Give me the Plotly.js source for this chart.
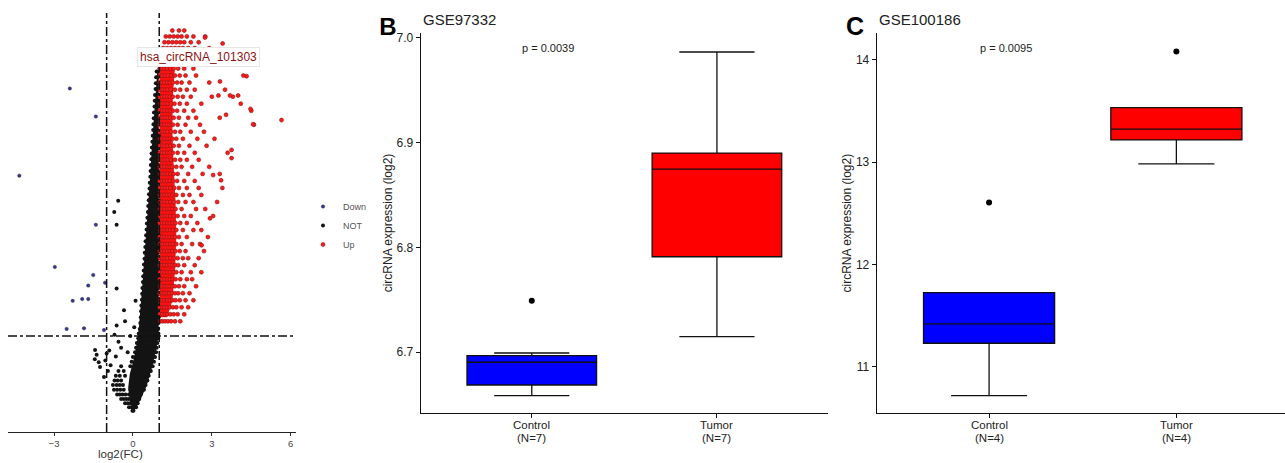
<!DOCTYPE html>
<html>
<head>
<meta charset="utf-8">
<script src="https://cdn.plot.ly/plotly-3.0.1.min.js"></script>
<style>html,body{margin:0;padding:0;background:#fff;}#chart{width:1285px;height:463px;}</style>
</head>
<body>
<div id="chart"></div>
<script>
// ---------------- Panel A: volcano plot (log2 fold change vs -log10 p) ----------------
// rows: [y, x1, x2, ...]  (NOT significant circRNAs)
const notRows = [
  [0.02,-0.02,0.02],
  [0.08,-0.15,-0.05,0.05,0.12],
  [0.15,-0.3,-0.2,-0.1,0,0.1,0.18],
  [0.22,-0.45,-0.35,-0.25,-0.15,-0.05,0.05,0.15,0.24],
  [0.3,-0.6,-0.5,-0.4,-0.28,-0.15,0,0.1,0.2,0.3],
  [0.38,-0.72,-0.6,-0.48,-0.35,-0.1,0.05,0.15,0.25,0.35,0.42],
  [0.46,-0.76,-0.62,-0.5,-0.38,-0.05,0.08,0.2,0.3,0.4,0.48],
  [0.54,-0.7,-0.58,-0.45,0.0,0.12,0.22,0.33,0.45,0.55],
  [0.62,-0.65,-0.5,-0.3,0.05,0.15,0.27,0.38,0.5,0.6],
  [0.7,-0.55,-0.35,0.0,0.1,0.2,0.3,0.42,0.55,0.68],
  [0.78,-0.45,-0.1,0.05,0.15,0.25,0.36,0.48,0.6,0.75],
  [0.86,-0.05,0.1,0.2,0.3,0.42,0.54,0.66,0.8],
  [0.94,0.0,0.12,0.24,0.35,0.46,0.58,0.7,0.84],
  [1.02,0.08,0.18,0.28,0.4,0.5,0.62,0.74,0.88],
  [1.1,0.12,0.22,0.32,0.44,0.55,0.66,0.78,0.9],
  [1.18,0.15,0.26,0.36,0.48,0.58,0.7,0.82,0.93],
  [1.26,0.2,0.3,0.4,0.5,0.62,0.74,0.86,0.96],
  [1.34,0.22,0.32,0.42,0.53,0.64,0.76,0.88,0.97],
  [1.42,0.26,0.36,0.46,0.56,0.66,0.76,0.86,0.96],
  [1.52,0.28,0.38,0.48,0.58,0.68,0.78,0.88,0.97],
  [1.62,0.3,0.4,0.5,0.6,0.7,0.8,0.9,0.98],
  [1.72,0.31,0.42,0.52,0.62,0.72,0.82,0.92],
  [1.82,0.32,0.43,0.54,0.64,0.74,0.85,0.95],
  [1.92,0.34,0.45,0.55,0.65,0.76,0.86,0.97],
  [2.02,0.35,0.46,0.56,0.66,0.77,0.88,0.98],
  [2.12,0.36,0.47,0.58,0.68,0.78,0.89,0.97],
  [2.22,0.38,0.48,0.59,0.7,0.8,0.9,0.98],
  [2.32,0.39,0.5,0.6,0.7,0.8,0.9,0.98],
  [2.42,0.41,0.51,0.61,0.71,0.81,0.91,0.98],
  [2.52,0.42,0.52,0.62,0.72,0.82,0.92,0.99],
  [2.62,0.44,0.54,0.64,0.74,0.84,0.94],
  [2.72,0.45,0.55,0.65,0.75,0.85,0.95],
  [2.82,0.47,0.57,0.67,0.77,0.87,0.97],
  [2.92,0.48,0.58,0.68,0.78,0.88,0.97],
  [3.02,0.5,0.6,0.7,0.8,0.9,0.98],
  [3.12,0.52,0.62,0.72,0.82,0.92,0.99],
  [3.22,0.53,0.63,0.73,0.83,0.93],
  [3.32,0.55,0.65,0.75,0.85,0.95],
  [3.42,0.57,0.67,0.77,0.87,0.96],
  [3.52,0.58,0.68,0.78,0.88,0.97],
  [3.62,0.6,0.7,0.8,0.9,0.98],
  [3.72,0.61,0.71,0.81,0.91,0.98],
  [3.82,0.63,0.73,0.83,0.92,0.99],
  [3.92,0.64,0.74,0.84,0.93],
  [4.02,0.66,0.75,0.85,0.94],
  [4.12,0.67,0.76,0.86,0.95],
  [4.22,0.68,0.78,0.87,0.96],
  [4.32,0.7,0.79,0.88,0.97],
  [4.42,0.71,0.8,0.89,0.97],
  [4.52,0.72,0.81,0.9,0.98],
  [4.62,0.74,0.83,0.91,0.98],
  [4.72,0.75,0.84,0.92,0.99],
  [4.82,0.77,0.85,0.93],
  [4.92,0.78,0.86,0.94],
  [5.02,0.79,0.87,0.95],
  [5.12,0.8,0.88,0.96],
  [5.22,0.82,0.89,0.96],
  [5.32,0.83,0.9,0.97],
  [5.42,0.84,0.91,0.97],
  [5.52,0.86,0.92,0.98],
  [5.62,0.87,0.93,0.98],
  [5.72,0.88,0.94],
  [5.82,0.9,0.96]
];
// scattered NOT points
const notSparseX = [-1.44,-1.38,-1.45,-1.25,-1.3,-1.05,-0.85,-0.45,-0.55,-0.7,-0.62,-0.34,-0.62,-0.71,-0.62,-0.56,-1.0,-0.9,-0.95,-1.1,-0.3,-0.1,0.05,0.1,-0.2,-0.65];
const notSparseY = [1.06,0.98,0.9,0.77,0.85,0.88,0.8,1.1,1.2,1.32,1.48,1.74,2.11,3.42,3.2,3.61,1.0,1.05,0.7,0.6,1.55,1.3,1.45,1.9,1.02,0.95];
// envelope of the solid (overplotted) NOT cloud
const notCoreX = [0,-0.12,-0.18,-0.12,0.0,0.12,0.22,0.3,0.38,0.46,0.56,0.65,0.73,0.8,0.86,0.92,0.98,0.98,0.85,0.72,0.52,0.3,0.1];
const notCoreY = [0.03,0.2,0.42,0.65,0.85,1.1,1.4,1.8,2.3,2.8,3.4,4.0,4.6,5.1,5.5,5.8,5.8,1.3,1.0,0.75,0.45,0.22,0.05];

// rows: [y, x1, x2, ...]  (Up-regulated circRNAs)
const upRows = [
  [1.55,1.03,1.12,1.22,1.33,1.45,1.6,1.8],
  [1.67,1.03,1.12,1.21,1.3,1.42,1.55,1.7,1.95],
  [1.79,1.02,1.11,1.2,1.3,1.4,1.52,1.65,1.85,2.1],
  [1.91,1.03,1.12,1.21,1.3,1.4,1.5,1.62,1.78,2.0,2.3],
  [2.03,1.02,1.11,1.2,1.29,1.38,1.48,1.6,1.72,1.9,2.15],
  [2.15,1.03,1.12,1.21,1.3,1.4,1.5,1.6,1.75,1.95,2.4],
  [2.27,1.02,1.11,1.2,1.3,1.4,1.5,1.62,1.8,2.05,2.25],
  [2.39,1.03,1.12,1.21,1.3,1.4,1.52,1.65,1.85,2.2,2.6],
  [2.51,1.02,1.11,1.2,1.3,1.4,1.5,1.6,1.72,1.95,2.35],
  [2.63,1.03,1.12,1.21,1.31,1.42,1.55,1.7,1.9,2.1,2.5],
  [2.75,1.02,1.11,1.2,1.3,1.4,1.5,1.62,1.78,2.0,2.7],
  [2.87,1.03,1.12,1.22,1.32,1.42,1.52,1.65,1.85,2.25,2.55],
  [2.99,1.02,1.11,1.2,1.3,1.4,1.5,1.6,1.75,2.05,2.85],
  [3.11,1.03,1.12,1.21,1.31,1.41,1.52,1.65,1.9,2.3,2.6],
  [3.23,1.02,1.11,1.2,1.3,1.4,1.5,1.62,1.8,2.05,2.45],
  [3.35,1.03,1.12,1.22,1.32,1.42,1.55,1.7,1.95,2.2,3.05],
  [3.47,1.02,1.11,1.2,1.3,1.4,1.5,1.62,1.85,2.4,2.75],
  [3.59,1.03,1.12,1.21,1.31,1.42,1.55,1.72,2.0,2.3,3.2],
  [3.71,1.02,1.11,1.2,1.3,1.4,1.5,1.65,1.9,2.15,2.6],
  [3.83,1.03,1.12,1.22,1.32,1.43,1.57,1.75,2.05,2.5,3.4],
  [3.95,1.02,1.11,1.2,1.3,1.4,1.52,1.68,1.95,2.35],
  [4.07,1.03,1.12,1.21,1.31,1.42,1.55,1.7,2.1,2.65,3.3],
  [4.19,1.02,1.11,1.2,1.3,1.4,1.5,1.65,1.85,2.25,2.9],
  [4.31,1.03,1.12,1.22,1.32,1.44,1.6,1.8,2.05,2.5],
  [4.43,1.02,1.11,1.2,1.3,1.4,1.52,1.7,1.95,2.35,3.6],
  [4.55,1.03,1.12,1.21,1.31,1.42,1.55,1.75,2.15,2.8],
  [4.67,1.02,1.11,1.2,1.3,1.4,1.5,1.65,1.9,2.45,3.1],
  [4.79,1.03,1.12,1.22,1.32,1.44,1.6,1.8,2.2,2.7],
  [4.91,1.02,1.11,1.2,1.3,1.4,1.52,1.7,2.0,2.55,4.6],
  [5.03,1.03,1.12,1.21,1.31,1.42,1.55,1.75,2.1,2.4,3.3],
  [5.15,1.02,1.11,1.2,1.3,1.4,1.52,1.68,1.95,2.3,4.5],
  [5.27,1.03,1.12,1.22,1.32,1.44,1.58,1.78,2.05,2.6,4.1],
  [5.39,1.02,1.11,1.2,1.3,1.4,1.52,1.7,1.9,2.2,3.0,3.8],
  [5.51,1.03,1.12,1.22,1.32,1.44,1.6,1.8,2.05,2.35,3.5],
  [5.63,1.02,1.11,1.2,1.3,1.4,1.52,1.68,1.85,2.15,2.9],
  [5.75,1.03,1.12,1.22,1.33,1.45,1.6,1.78,2.0,2.4,4.2],
  [5.87,1.02,1.11,1.2,1.3,1.42,1.55,1.72,1.95,2.3],
  [6.22,1.15,1.3,1.45,1.6,1.75,1.9,2.1,2.35,2.9],
  [6.32,1.2,1.35,1.5,1.65,1.8,1.95,2.2,2.5],
  [6.42,1.25,1.4,1.55,1.7,1.85,2.05,2.3,2.75],
  [6.52,1.5,1.75,1.95]
];
// scattered Up points
const upSparseX = [4.32,3.31,3.25,3.69,4.0,4.47,4.57,5.65,3.54,3.75,3.75,3.05,3.35,2.93,2.61,3.41,2.74];
const upSparseY = [5.74,5.65,5.41,5.41,5.41,5.18,4.92,4.99,5.08,4.48,4.34,4.05,3.96,3.31,2.85,6.3,6.4];
// envelope of the solid (overplotted) Up cloud
const upCoreX = [1.01,1.3,1.5,1.6,1.65,1.62,1.55,1.5,1.52,1.6,1.01];
const upCoreY = [1.62,1.62,1.9,2.4,3.0,3.6,4.2,4.8,5.4,5.9,5.9];

// Down-regulated circRNAs
const downX = [-2.40,-1.41,-4.32,-1.41,-2.97,-1.51,-1.70,-1.06,-2.29,-1.93,-1.70,-2.52,-1.86,-1.10];
const downY = [5.53,5.05,4.04,3.20,2.48,2.34,2.16,2.21,1.90,1.93,1.93,1.42,1.43,1.40];

const foldCut = [-1, 1];     // log2 fold-change thresholds
const pCut = [1.3];          // -log10(0.05)
const volcanoTicks = [-3, 0, 3, 6];
const labelGene = {name: 'hsa_circRNA_101303', x: 2.5, y: 6.06};

// ---------------- Panel B: GSE97332 ----------------
const groupsB = ['Control', 'Tumor'];
const countsB = [7, 7];
const statsB = {  // lowerfence, q1, median, q3, upperfence
  control: [6.6586, 6.6688, 6.6905, 6.6968, 6.6993],
  tumor:   [6.7149, 6.7911, 6.8747, 6.8900, 6.9864]
};
const outliersB = {g: [0], y: [6.7492]};
const pB = 'p = 0.0039';

// ---------------- Panel C: GSE100186 ----------------
const groupsC = ['Control', 'Tumor'];
const countsC = [4, 4];
const statsC = {
  control: [10.716, 11.229, 11.418, 11.724, 11.724],
  tumor:   [12.983, 13.218, 13.323, 13.534, 13.534]
};
const outliersC = {g: [0, 1], y: [12.605, 14.082]};
const pC = 'p = 0.0095';

// ---------------- build ----------------
function flatten(rows, extraX, extraY) {
  const xs = [], ys = [];
  rows.forEach(r => { for (let i = 1; i < r.length; i++) { xs.push(r[i]); ys.push(r[0]); } });
  return {x: xs.concat(extraX), y: ys.concat(extraY)};
}
const notPts = flatten(notRows, notSparseX, notSparseY);
const upPts = flatten(upRows, upSparseX, upSparseY);

const FONT = 'Liberation Sans, Arial, Helvetica, sans-serif';
const W = 1285, H = 463;
const px = v => v / W, py = v => (H - v) / H;

const traces = [
  {type: 'scatter', mode: 'lines', x: notCoreX, y: notCoreY, fill: 'toself', fillcolor: '#141414',
   line: {width: 0}, xaxis: 'x', yaxis: 'y', showlegend: false, hoverinfo: 'skip'},
  {type: 'scatter', mode: 'lines', x: upCoreX, y: upCoreY, fill: 'toself', fillcolor: '#ff1010',
   line: {width: 0}, xaxis: 'x', yaxis: 'y', showlegend: false, hoverinfo: 'skip'},
  {type: 'scatter', mode: 'markers', name: 'Down', x: downX, y: downY, xaxis: 'x', yaxis: 'y',
   marker: {color: '#33339a', size: 3.5, line: {color: '#333', width: 0.4}}, hoverinfo: 'skip'},
  {type: 'scatter', mode: 'markers', name: 'NOT', x: notPts.x, y: notPts.y, xaxis: 'x', yaxis: 'y',
   marker: {color: '#141414', size: 4, line: {width: 0}}, hoverinfo: 'skip'},
  {type: 'scatter', mode: 'markers', name: 'Up', x: upPts.x, y: upPts.y, xaxis: 'x', yaxis: 'y',
   marker: {color: '#ff1a1a', size: 4, line: {color: '#8a1515', width: 0.6}}, hoverinfo: 'skip'}
];

function boxTrace(ax, ay, cat, s, color) {
  return {type: 'box', x: [cat], lowerfence: [s[0]], q1: [s[1]], median: [s[2]], q3: [s[3]], upperfence: [s[4]],
    xaxis: ax, yaxis: ay, fillcolor: color, line: {color: '#111', width: 1.3}, width: 0.7, whiskerwidth: 0.58,
    boxpoints: false, showlegend: false, hoverinfo: 'skip'};
}
traces.push(boxTrace('x2', 'y2', groupsB[0], statsB.control, '#0000ff'));
traces.push(boxTrace('x2', 'y2', groupsB[1], statsB.tumor, '#ff0000'));
traces.push({type: 'scatter', mode: 'markers', x: outliersB.g.map(i => groupsB[i]), y: outliersB.y, xaxis: 'x2', yaxis: 'y2',
  marker: {color: '#000', size: 6}, showlegend: false, hoverinfo: 'skip'});
traces.push(boxTrace('x3', 'y3', groupsC[0], statsC.control, '#0000ff'));
traces.push(boxTrace('x3', 'y3', groupsC[1], statsC.tumor, '#ff0000'));
traces.push({type: 'scatter', mode: 'markers', x: outliersC.g.map(i => groupsC[i]), y: outliersC.y, xaxis: 'x3', yaxis: 'y3',
  marker: {color: '#000', size: 6}, showlegend: false, hoverinfo: 'skip'});

const shapes = [];
foldCut.forEach(v => shapes.push({type: 'line', xref: 'x', yref: 'y domain', x0: v, x1: v, y0: 0, y1: 1,
  line: {color: '#111', width: 1.5, dash: 'dashdot'}}));
pCut.forEach(v => shapes.push({type: 'line', xref: 'x domain', yref: 'y', x0: 0, x1: 1, y0: v, y1: v,
  line: {color: '#111', width: 1.5, dash: 'dashdot'}}));

const boxAxisX = {showgrid: false, zeroline: false, showline: true, linecolor: '#111', linewidth: 1,
  ticks: 'outside', ticklen: 4, tickcolor: '#111', showticklabels: false,
  type: 'category', fixedrange: true};
const boxAxisY = {showgrid: false, zeroline: false, showline: true, linecolor: '#111', linewidth: 1,
  ticks: 'outside', ticklen: 4, tickcolor: '#111', tickfont: {family: FONT, size: 12, color: '#222'},
  title: {text: 'circRNA expression (log2)', font: {family: FONT, size: 12, color: '#222'}, standoff: 1}};

const annotations = [
  {xref: 'x', yref: 'y', x: labelGene.x, y: labelGene.y, text: labelGene.name, showarrow: false,
   font: {family: FONT, size: 12, color: '#8b1212'}, bgcolor: '#fff', bordercolor: '#e6e6e6', borderwidth: 1, borderpad: 2},
  {xref: 'paper', yref: 'paper', x: px(120.5), y: py(453.5), text: 'log2(FC)', showarrow: false,
   xanchor: 'center', yanchor: 'middle', font: {family: FONT, size: 11.5, color: '#333'}},
  {xref: 'paper', yref: 'paper', x: px(387.5), y: py(26), text: '<b>B</b>', showarrow: false,
   xanchor: 'center', yanchor: 'middle', width: 18, height: 20, font: {family: FONT, size: 24, color: '#000'}},
  {xref: 'paper', yref: 'paper', x: px(420.7), y: py(19.5), text: 'GSE97332', showarrow: false,
   xanchor: 'left', yanchor: 'middle', font: {family: FONT, size: 15, color: '#222'}},
  {xref: 'paper', yref: 'paper', x: px(854.5), y: py(26.5), text: '<b>C</b>', showarrow: false,
   xanchor: 'center', yanchor: 'middle', width: 18, height: 20, font: {family: FONT, size: 25, color: '#000'}},
  {xref: 'paper', yref: 'paper', x: px(876.7), y: py(19.5), text: 'GSE100186', showarrow: false,
   xanchor: 'left', yanchor: 'middle', font: {family: FONT, size: 15, color: '#222'}},
  {xref: 'x2', yref: 'y2', x: 0.085, y: 6.9905, text: pB, showarrow: false,
   xanchor: 'center', yanchor: 'middle', font: {family: FONT, size: 11, color: '#222'}},
  {xref: 'x3', yref: 'y3', x: 0.089, y: 14.12, text: pC, showarrow: false,
   xanchor: 'center', yanchor: 'middle', font: {family: FONT, size: 11, color: '#222'}}
];
// category labels and group sizes under the x axes
function catLabels(axis, groups, counts) {
  groups.forEach((g, i) => {
    annotations.push({xref: axis, yref: 'paper', x: g, y: py(425), text: g, showarrow: false,
      xanchor: 'center', yanchor: 'middle', font: {family: FONT, size: 11.5, color: '#222'}, height: 12});
    annotations.push({xref: axis, yref: 'paper', x: g, y: py(437.5), text: '(N=' + counts[i] + ')', showarrow: false,
      xanchor: 'center', yanchor: 'middle', font: {family: FONT, size: 11.5, color: '#222'}, height: 12});
  });
}
catLabels('x2', groupsB, countsB);
catLabels('x3', groupsC, countsC);

const layout = {
  width: W, height: H, margin: {l: 0, r: 0, t: 0, b: 0}, paper_bgcolor: '#fff', plot_bgcolor: 'rgba(0,0,0,0)',
  font: {family: FONT},
  showlegend: true,
  legend: {x: px(303), xanchor: 'left', y: py(192), yanchor: 'top', bgcolor: 'rgba(0,0,0,0)',
    font: {family: FONT, size: 9, color: '#555'}, itemwidth: 30, traceorder: 'normal'},
  xaxis: {domain: [px(8), px(296)], range: [-4.75, 6.2], anchor: 'y', showgrid: false, zeroline: false,
    showline: true, linecolor: '#222', linewidth: 1, ticks: 'outside', ticklen: 3, tickcolor: '#333',
    tickvals: volcanoTicks, tickfont: {family: FONT, size: 9.5, color: '#444'}},
  yaxis: {domain: [py(432), py(13)], range: [-0.342, 6.82], anchor: 'x', visible: false},
  xaxis2: Object.assign({}, boxAxisX, {domain: [px(420.7), px(828)], range: [-0.6, 1.6], anchor: 'y2'}),
  yaxis2: Object.assign({}, boxAxisY, {domain: [py(413), py(33)], range: [6.6421, 7.0045], anchor: 'x2',
    tickvals: [6.7, 6.8, 6.9, 7.0], ticktext: ['6.7', '6.8', '6.9', '7.0']}),
  xaxis3: Object.assign({}, boxAxisX, {domain: [px(876.7), 1], range: [-0.6, 1.58], anchor: 'y3'}),
  yaxis3: Object.assign({}, boxAxisY, {domain: [py(413.3), py(33)], range: [10.544, 14.264], anchor: 'x3',
    tickvals: [11, 12, 13, 14]}),
  shapes: shapes,
  annotations: annotations
};

Plotly.newPlot('chart', traces, layout, {staticPlot: true, displayModeBar: false});
</script>
</body>
</html>
